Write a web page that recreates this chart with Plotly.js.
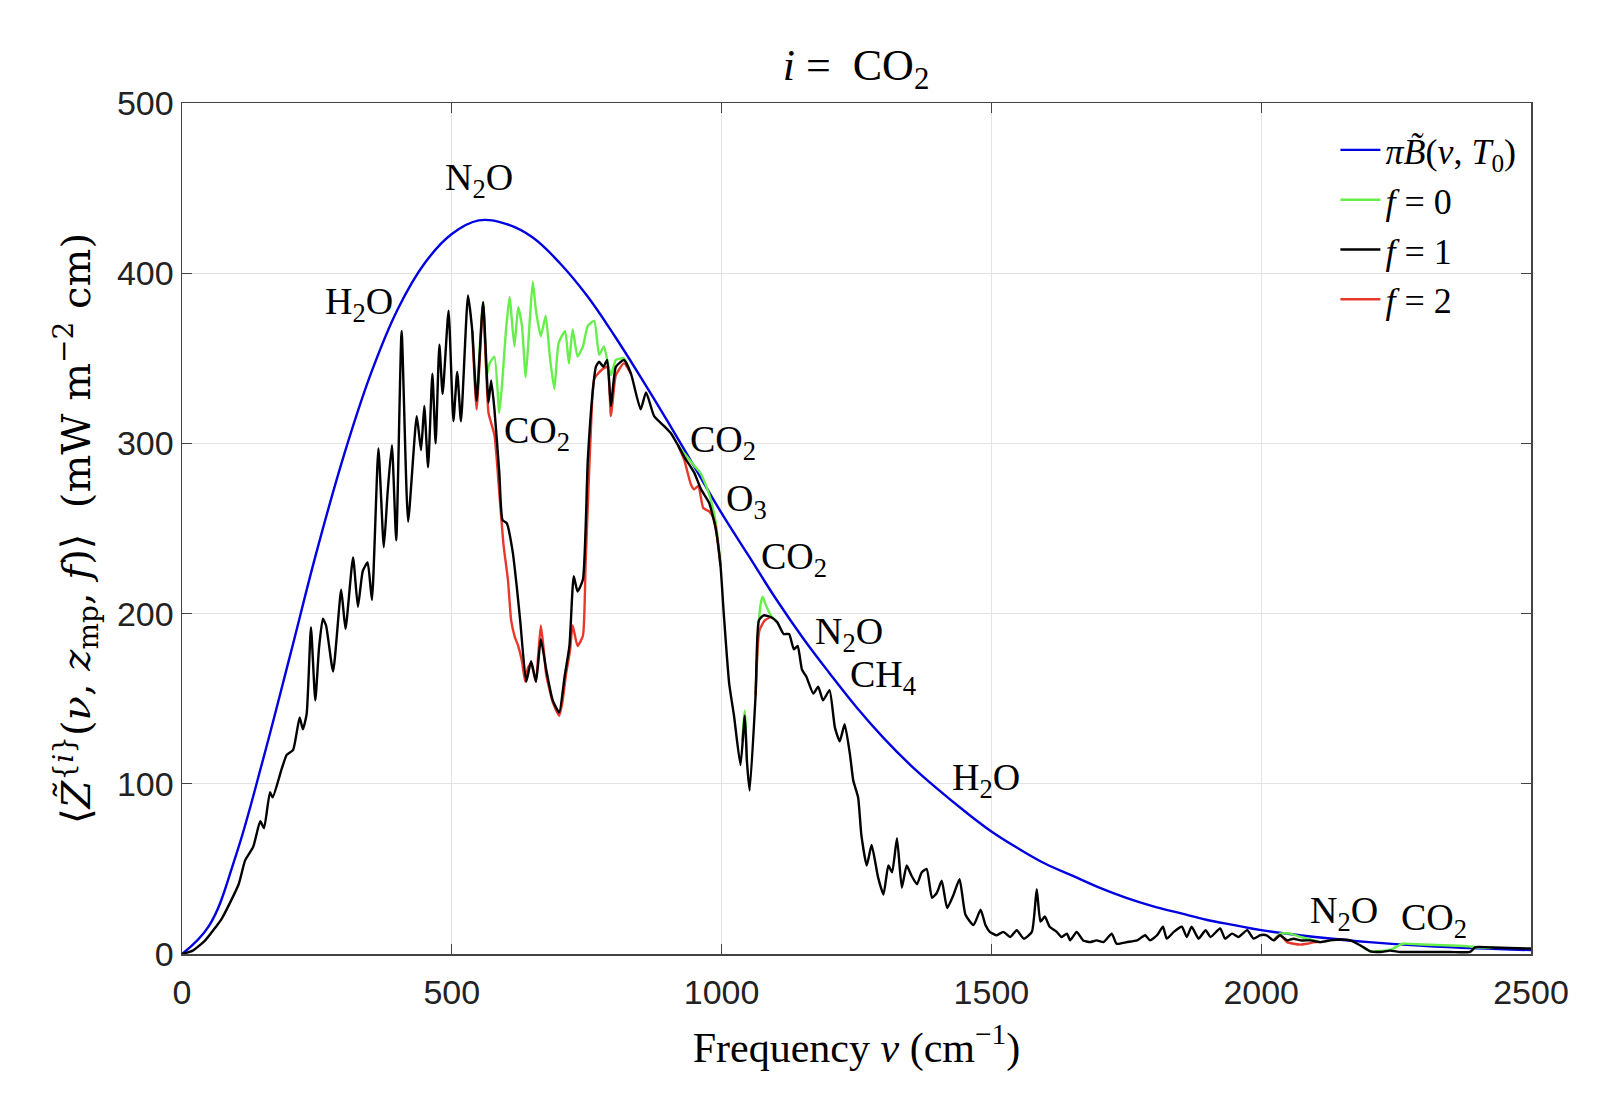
<!DOCTYPE html>
<html>
<head>
<meta charset="utf-8">
<script src="https://cdn.plot.ly/plotly-3.0.1.min.js"></script>
<style>
  html, body { margin: 0; padding: 0; background: #fff; }
  #chart { width: 1600px; height: 1106px; }
</style>
</head>
<body>
<div id="chart"></div>
<script>
// blackbody curve
var planckNu = [0, 50, 100, 150, 200, 250, 300, 350, 400, 450, 500, 550, 600, 650, 700, 750, 800, 850, 900, 950,
  1000, 1050, 1100, 1150, 1200, 1250, 1300, 1350, 1400, 1450, 1500, 1550, 1600, 1650, 1700, 1750, 1800, 1850, 1900, 1950,
  2000, 2100, 2200, 2300, 2400, 2500];
var planckZ = [0, 16.5, 58, 114, 175, 237, 293, 341, 379, 406, 423, 431, 429, 421, 406, 387, 364, 339, 313, 286,
  259, 234, 209, 186, 165, 145, 127, 111, 97, 84, 72, 62, 53, 46, 39, 33, 28, 24, 20, 17,
  14, 10, 7, 4.8, 3.3, 2.3];

// f = 1
var f1Nu = [0, 20, 43, 74, 105, 117, 132, 145, 152, 163, 168, 185, 194, 206, 218, 224, 231, 239, 247, 254,
  261, 267, 280, 295, 303, 317, 326, 335, 344, 352, 364, 374, 381, 389, 397, 407, 419, 435, 443, 449,
  456, 464, 470, 477, 483, 494, 503, 510, 517, 530, 538, 546, 558, 568, 573, 579, 588, 594, 602, 613,
  621, 627, 638, 647, 656, 665, 675, 687, 699, 709, 718, 726, 733, 743, 752, 761, 767, 773, 781, 788,
  795, 804, 819, 832, 850, 860, 875, 894, 906, 919, 931, 949, 962, 977, 989, 998, 1004, 1014, 1023, 1035,
  1043, 1047, 1052, 1063, 1069, 1078, 1091, 1103, 1115, 1125, 1134, 1141, 1149, 1157, 1170, 1179, 1188, 1200, 1210, 1219,
  1228, 1238, 1244, 1253, 1259, 1269, 1278, 1290, 1300, 1309, 1316, 1325, 1334, 1343, 1352, 1362, 1371, 1380, 1390, 1399,
  1408, 1418, 1430, 1441, 1452, 1467, 1480, 1489, 1497, 1510, 1522, 1535, 1547, 1560, 1575, 1584, 1591, 1599, 1608, 1621,
  1630, 1640, 1646, 1658, 1670, 1683, 1695, 1708, 1723, 1732, 1751, 1770, 1785, 1794, 1807, 1818, 1825, 1838, 1853, 1862,
  1871, 1884, 1897, 1906, 1924, 1933, 1946, 1958, 1974, 1986, 1998, 2010, 2023, 2035, 2048, 2060, 2073, 2091, 2110, 2128,
  2147, 2165, 2184, 2202, 2221, 2239, 2258, 2300, 2350, 2387, 2397, 2431, 2460, 2500];
var f1Z = [0, 2, 8, 21, 41, 55, 63, 78, 74, 95, 92, 109, 117, 120, 139, 132, 141, 192, 149, 180,
  197, 193, 166, 214, 191, 233, 204, 225, 230, 208, 297, 239, 271, 299, 243, 366, 254, 316, 296, 322,
  286, 341, 300, 358, 329, 378, 313, 342, 313, 387, 366, 325, 383, 324, 337, 320, 283, 255, 253, 236,
  214, 195, 160, 172, 160, 185, 167, 149, 142, 163, 181, 222, 213, 220, 290, 330, 345, 348, 345, 349,
  322, 345, 349, 341, 320, 330, 316, 310, 306, 299, 292, 283, 273, 265, 250, 228, 200, 159, 140, 111,
  140, 113, 96, 152, 196, 199, 198, 195, 188, 188, 179, 181, 167, 163, 153, 157, 149, 155, 133, 125,
  135, 117, 102, 92, 70, 52, 64, 45, 35, 52, 48, 68, 39, 52, 46, 41, 48, 50, 33, 36,
  43, 27, 35, 44, 23, 17, 26, 17, 13, 11, 13, 10, 14, 9, 13, 38, 19, 22, 16, 13,
  10, 12, 8, 13, 8, 7, 8, 7, 12, 6, 7, 8, 11, 8, 11, 16, 9, 13, 16, 10,
  16, 9, 14, 10, 15, 9, 12, 10, 14, 9, 11, 11, 8, 11, 8, 9, 8, 8, 7, 8,
  8.5, 8, 5, 1.6, 1.2, 2, 1.2, 1.2, 1.2, 1.2, 4, 3.8, 3.5, 3.2];

// f = 0, only where it leaves f = 1 (null = gap)
var f0Nu = [546, 558, 565, 570, 579, 588, 593, 600, 607, 616, 623, 630, 637, 644, 650, 656, 665, 674, 682, 690,
  698, 710, 717, 724, 733, 743, 752, 764, 773, 782, 788, 795, 804, 819, 832, null,
  919, 931, 949, 962, 977, 989, 998, null,
  1038, 1043, 1047, null,
  1063, 1068, 1072, 1076, 1082, 1091, 1103, null,
  2023, 2035, 2054, 2073, 2091, 2110, null,
  2184, 2202, 2240, 2262, 2300, 2350, 2385, 2397, 2431];
var f0Z = [325, 383, 340, 347, 351, 318, 334, 365, 386, 357, 380, 369, 339, 370, 395, 378, 363, 375, 350, 332,
  359, 366, 347, 367, 351, 357, 369, 372, 352, 357, 349, 340, 349, 350, 341, null,
  299, 294, 287, 282, 270, 254, 229, null,
  125, 143, 113, null,
  152, 190, 205, 210, 205, 199, 195, null,
  8, 12, 12, 10, 8.5, 7, null,
  5, 1.6, 2.5, 6, 5.6, 5, 4.5, 4, 3.8];

// f = 2, only where it leaves f = 1 (null = gap)
var f2Nu = [538, 546, 558, 568, 579, 588, 596, 604, 610, 617, 623, 630, 636, 641, 647, 652, 656, 660, 665, 670,
  675, 687, 699, 705, 712, 719, 724, 733, 743, 748, 753, 758, 764, 777, 788, 795, 804, 819, 832, null,
  919, 931, 943, 949, 957, 966, 977, 985, 990, 998, null,
  1063, 1070, 1080, 1091, null,
  2023, 2035, 2048, 2060, 2073, 2085, 2100, 2110];
var f2Z = [366, 320, 382, 318, 305, 271, 240, 220, 196, 186, 181, 172, 160, 168, 171, 165, 160, 175, 193, 180,
  164, 148, 140, 148, 165, 178, 193, 181, 187, 230, 271, 310, 338, 343, 345, 316, 340, 347, 341, null,
  299, 290, 276, 273, 275, 262, 260, 256, 249, 228, null,
  152, 190, 196, 198, null,
  8, 11, 7, 6, 5.5, 6, 7, 7];

var molLabels = ['N<sub>2</sub>O', 'H<sub>2</sub>O', 'CO<sub>2</sub>', 'CO<sub>2</sub>', 'O<sub>3</sub>',
  'CO<sub>2</sub>', 'N<sub>2</sub>O', 'CH<sub>4</sub>', 'H<sub>2</sub>O', 'N<sub>2</sub>O', 'CO<sub>2</sub>'];
var molNu = [550, 328, 658, 1003, 1047, 1134, 1236, 1299, 1490, 2154, 2320];
var molZ = [455, 382, 306, 301, 266, 232, 188, 163, 102, 24, 20];

var serif = 'Liberation Serif, Times New Roman, serif';
var wideSerif = 'DejaVu Serif, Liberation Serif, serif';
var lw = 2.4;

var traces = [
  {x: planckNu, y: planckZ, mode: 'lines', line: {color: '#0000e0', width: lw, shape: 'spline', smoothing: 1.1},
   name: '<i>π</i><i>B̃</i>(<i>ν</i>, <i>T</i><sub>0</sub>)', legendrank: 1},
  {x: f0Nu, y: f0Z, mode: 'lines', line: {color: '#66ee4a', width: lw, shape: 'spline', smoothing: 0.5},
   connectgaps: false, name: '<i>f</i> = 0', legendrank: 2},
  {x: f2Nu, y: f2Z, mode: 'lines', line: {color: '#e8382c', width: lw, shape: 'spline', smoothing: 0.5},
   connectgaps: false, name: '<i>f</i> = 2', legendrank: 4},
  {x: f1Nu, y: f1Z, mode: 'lines', line: {color: '#000000', width: lw, shape: 'spline', smoothing: 0.5},
   name: '<i>f</i> = 1', legendrank: 3}
];

var notes = molLabels.map(function (t, i) {
  return {x: molNu[i], y: molZ[i], text: t, showarrow: false, xref: 'x', yref: 'y',
          font: {family: serif, size: 38, color: '#000'}};
});

var axisCommon = {
  showline: true, mirror: 'ticks', linecolor: '#444', linewidth: 1.5,
  ticks: 'inside', ticklen: 10, tickcolor: '#444', tickwidth: 1.2,
  showgrid: true, gridcolor: '#e3e3e3', gridwidth: 1.2, zeroline: false,
  tickfont: {family: 'Liberation Sans, Arial, sans-serif', size: 34, color: '#222'}
};

var layout = {
  width: 1600, height: 1106,
  margin: {l: 182, r: 69, t: 103, b: 152},
  paper_bgcolor: '#fff', plot_bgcolor: '#fff',
  title: {text: '<i>i</i> =  CO<sub>2</sub>', x: 0.535, xanchor: 'center', y: 0.942, yanchor: 'middle',
          font: {family: serif, size: 44, color: '#000'}},
  xaxis: Object.assign({}, axisCommon, {
    range: [0, 2500], tickvals: [0, 500, 1000, 1500, 2000, 2500], ticklabelstandoff: 8,
    title: {text: 'Frequency <i>ν</i> (cm<sup>−1</sup>)', font: {family: serif, size: 42, color: '#000'}, standoff: 22}
  }),
  yaxis: Object.assign({}, axisCommon, {
    range: [0, 500], tickvals: [0, 100, 200, 300, 400, 500],
    title: {text: '⟨<i>Z̃</i><sup>{<i>i</i>}</sup>(<i>ν</i>, <i>z</i><sub>mp</sub>, <i>f</i>)⟩  (mW m<sup>−2</sup> cm)',
            font: {family: wideSerif, size: 40, color: '#000'}, standoff: 14}
  }),
  legend: {x: 0.855, y: 0.98, xanchor: 'left', yanchor: 'top', bgcolor: 'rgba(0,0,0,0)',
           font: {family: serif, size: 36, color: '#000'}, itemwidth: 40},
  annotations: notes
};

Plotly.newPlot('chart', traces, layout, {displayModeBar: false, staticPlot: true});
</script>
</body>
</html>
